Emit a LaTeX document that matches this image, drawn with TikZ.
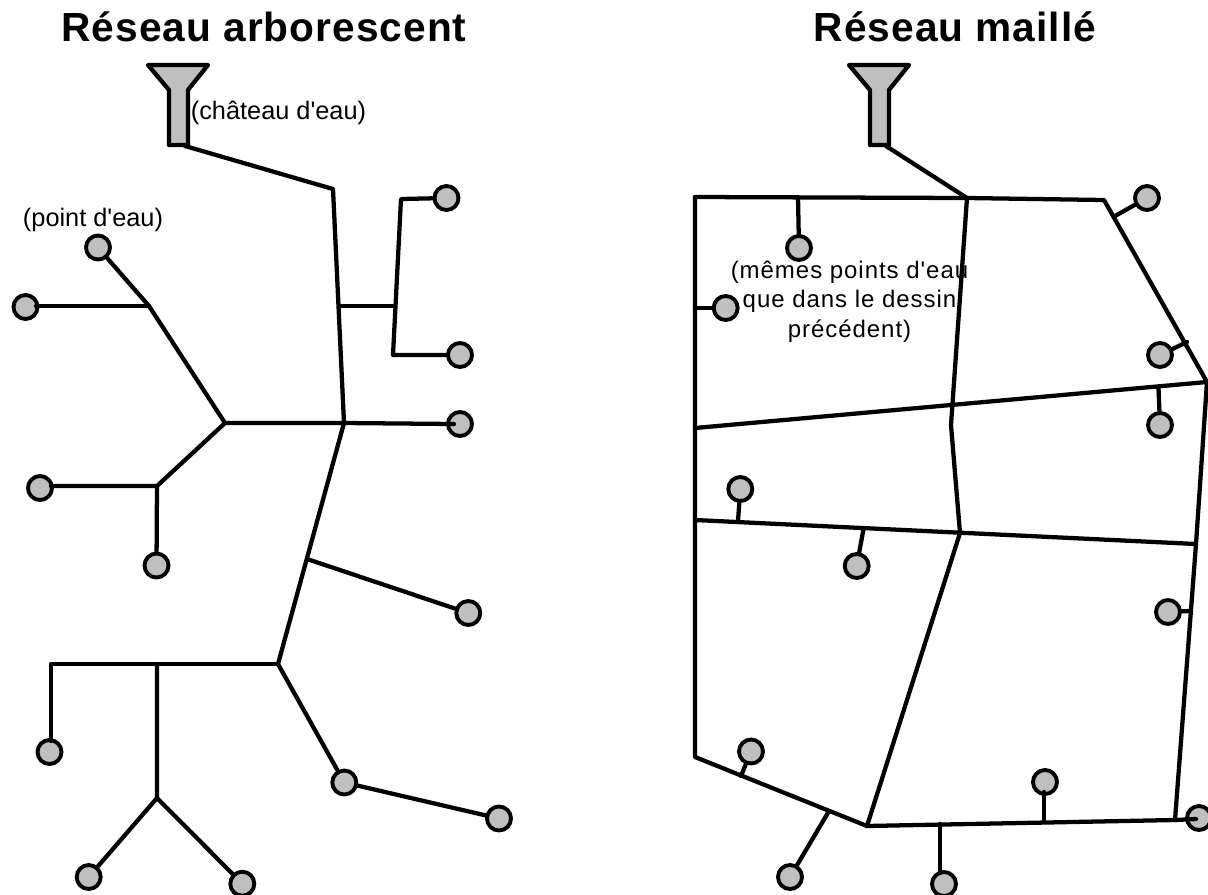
\documentclass[tikz,border=0pt]{standalone}
\usepackage{fontspec}
\setmainfont{Liberation Sans}
\newfontfamily\plainfont{Liberation Sans}
\newfontfamily\widefont[LetterSpace=4]{Liberation Sans}
\newfontfamily\titlefont[LetterSpace=2.5]{Liberation Sans}
\tikzset{
  pipe/.style={line width=3.2pt,line join=round,line cap=round,black},
  pt/.style={circle,draw=black,fill=black!25,line width=2.9pt,minimum size=18pt,inner sep=0pt},
  tank/.style={draw=black,fill=black!25,line width=3.2pt,line join=round},
  ttl/.style={font=\titlefont\bfseries\fontsize{30.5pt}{34pt}\selectfont,inner sep=0pt},
  lbl/.style={font=\plainfont\fontsize{19pt}{22pt}\selectfont,inner sep=0pt},
  wlbl/.style={font=\widefont\fontsize{18pt}{22pt}\selectfont,inner sep=0pt,align=center}
}
\begin{document}
\begin{tikzpicture}[x=0.75pt,y=-0.75pt]
\useasboundingbox (0,0) rectangle (1208,894);
% titles and labels
\node[ttl] (t1) at (264,27) {Réseau arborescent};
\node[ttl] (t2) at (955,27) {Réseau maillé};
\node[lbl] (l1) at (278.5,113) {(château d'eau)};
\node[lbl] (l2) at (93,220) {(point d'eau)};
\node[wlbl] (l3) at (849.5,301.5) {(mêmes points d'eau\\que dans le dessin\\précédent)};
% tanks
\draw[tank] (148,65) -- (208,65) -- (188,90) -- (188,145) -- (169,145) -- (169,90) -- cycle;
\draw[tank] (849,65) -- (909,65) -- (889,90) -- (889,145) -- (870,145) -- (870,90) -- cycle;
% left points
\node[pt] (a1) at (446.5,198) {};
\node[pt] (a2) at (460,355) {};
\node[pt] (a3) at (460,424) {};
\node[pt] (a4) at (98,247.5) {};
\node[pt] (a5) at (25.5,307) {};
\node[pt] (a6) at (40,488) {};
\node[pt] (a7) at (156.5,565.5) {};
\node[pt] (a8) at (468.3,613) {};
\node[pt] (a9) at (49.5,752) {};
\node[pt] (a10) at (88.7,877) {};
\node[pt] (a11) at (242.3,883.7) {};
\node[pt] (a12) at (344.3,782.5) {};
\node[pt] (a13) at (499,818.5) {};
% left junctions
\coordinate (s1) at (185,146);
\coordinate (j1) at (333,189);
\coordinate (j2) at (344,423);
\coordinate (j3) at (339,306);
\coordinate (j4) at (395,306);
\coordinate (j5) at (401,199);
\coordinate (j6) at (393,355);
\coordinate (j7) at (225,423);
\coordinate (j8) at (149,306);
\coordinate (j9) at (157,486);
\coordinate (j10) at (278,664);
\coordinate (j11) at (307,559);
\coordinate (j12) at (51,664);
\coordinate (j13) at (157,664);
\coordinate (j14) at (157,798);
\coordinate (e3) at (454,424);
\coordinate (e5) at (36,306);
\coordinate (e6) at (51,486);
\coordinate (e9) at (51,741);
\draw[pipe] (s1) -- (j1) -- (j2) -- (j10);
\draw[pipe] (j3) -- (j4);
\draw[pipe] (a1) -- (j5) -- (j6) -- (a2);
\draw[pipe] (j2) -- (e3);
\draw[pipe] (j2) -- (j7) -- (j8) -- (a4);
\draw[pipe] (j8) -- (e5);
\draw[pipe] (j7) -- (j9) -- (e6);
\draw[pipe] (j9) -- (a7);
\draw[pipe] (j11) -- (a8);
\draw[pipe] (j10) -- (j12) -- (e9);
\draw[pipe] (j13) -- (j14) -- (a10);
\draw[pipe] (j14) -- (a11);
\draw[pipe] (j10) -- (a12) -- (a13);
% right points
\node[pt] (b1) at (1147,198) {};
\node[pt] (b2) at (1160,355) {};
\node[pt] (b3) at (1160,425) {};
\node[pt] (b4) at (799,248) {};
\node[pt] (b5) at (725.7,308) {};
\node[pt] (b6) at (740.3,489) {};
\node[pt] (b7) at (856.7,566) {};
\node[pt] (b8) at (1168,612) {};
\node[pt] (b9) at (751,751.5) {};
\node[pt] (b10) at (790,877) {};
\node[pt] (b11) at (944,884) {};
\node[pt] (b12) at (1045,782) {};
\node[pt] (b13) at (1199,818) {};
% right junctions
\coordinate (s2) at (886,146);
\coordinate (k1) at (967,198);
\coordinate (k2) at (695,197);
\coordinate (k3) at (1104,200);
\coordinate (k4) at (1207,382);
\coordinate (k5) at (1196,544);
\coordinate (k6) at (1175,820);
\coordinate (k7) at (867,826);
\coordinate (k8) at (695,757);
\coordinate (k9) at (951,425);
\coordinate (k10) at (960,533);
\coordinate (k11) at (695,428);
\coordinate (k12) at (695,520);
\coordinate (k13) at (798,197);
\coordinate (k14) at (695,308);
\coordinate (k15) at (1115,216);
\coordinate (k16) at (1187,342);
\coordinate (k17) at (1158.5,388);
\coordinate (k18) at (738,521);
\coordinate (k19) at (863.7,528);
\coordinate (k20) at (1190,611);
\coordinate (k21) at (741,776);
\coordinate (k22) at (829,811);
\coordinate (k23) at (940,824);
\coordinate (k24) at (1044,822);
\coordinate (e11) at (940,873);
\coordinate (e12) at (1044,792);
\coordinate (e13) at (1196,819);
\draw[pipe] (s2) -- (k1);
\draw[pipe] (k2) -- (k1) -- (k3) -- (k4) -- (k5) -- (k6);
\draw[pipe] (k2) -- (k8) -- (k7) -- (k6) -- (e13);
\draw[pipe] (k1) -- (k9) -- (k10) -- (k7);
\draw[pipe] (k11) -- (k4);
\draw[pipe] (k12) -- (k5);
\draw[pipe] (k13) -- (b4);
\draw[pipe] (k14) -- (b5);
\draw[pipe] (k15) -- (b1);
\draw[pipe] (k16) -- (b2);
\draw[pipe] (k17) -- (b3);
\draw[pipe] (k18) -- (b6);
\draw[pipe] (k19) -- (b7);
\draw[pipe] (k20) -- (b8);
\draw[pipe] (k21) -- (b9);
\draw[pipe] (k22) -- (b10);
\draw[pipe] (k23) -- (e11);
\draw[pipe] (k24) -- (e12);
\end{tikzpicture}
\end{document}
